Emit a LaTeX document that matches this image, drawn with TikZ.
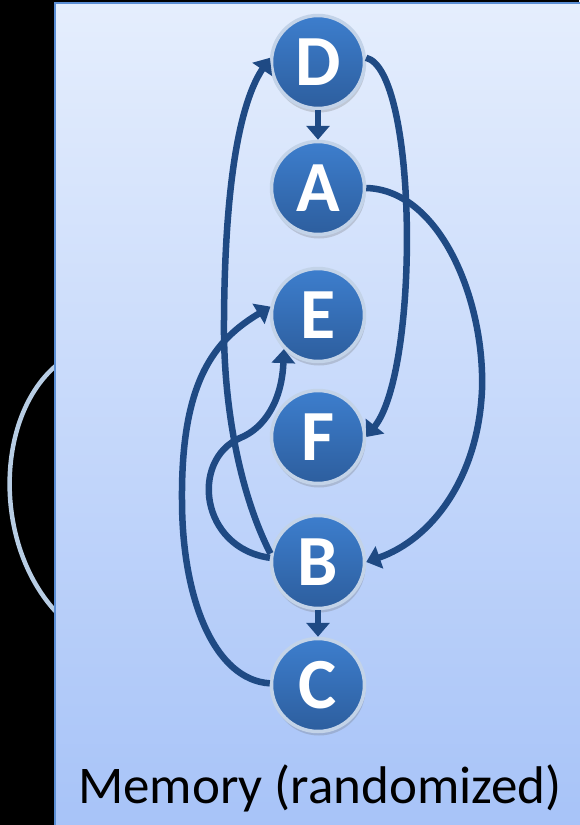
\documentclass[tikz,border=0pt]{standalone}
\usepackage{fontspec}
\setmainfont{Carlito}
\usetikzlibrary{arrows.meta,shadows}
\definecolor{edgeblue}{HTML}{1F4A84}
\definecolor{nodetop}{HTML}{3D7ECD}
\definecolor{nodebot}{HTML}{2D5E9E}
\definecolor{nodering}{HTML}{C3D3E8}
\definecolor{paneltop}{HTML}{E5EEFD}
\definecolor{panelbot}{HTML}{A7C3F8}
\definecolor{panelborder}{HTML}{5B8ED4}
\definecolor{ghost}{HTML}{B8CDE4}
\tikzset{
  mnode/.style={circle, minimum size=93pt, inner sep=0pt, line width=3.5pt,
    draw=nodering, top color=nodetop, bottom color=nodebot, text=white,
    font=\fontsize{72}{72}\selectfont\bfseries,
    drop shadow={shadow xshift=1pt, shadow yshift=-4pt, opacity=0.25, fill=black!60}},
  link/.style={draw=edgeblue, line width=6.5pt, -{Triangle[width=23pt,length=14pt]}},
}
\begin{document}
\begin{tikzpicture}[x=1pt,y=-1pt]
\useasboundingbox (0,0) rectangle (579,825);
\fill[black] (0,0) rectangle (579,825);
\draw[ghost, line width=4.5pt] (58,364) .. controls (-5,415) and (-8,545) .. (58,614);
\shade[top color=paneltop, bottom color=panelbot] (55,3) rectangle (590,830);
\draw[panelborder, line width=2pt] (55,840) -- (55,3) -- (590,3);
\node[mnode] (D) at (318,62) {D};
\node[mnode] (A) at (318,188) {A};
\node[mnode] (E) at (318,315) {E};
\node[mnode] (F) at (318,437) {F};
\node[mnode] (B) at (318,562) {B};
\node[mnode] (C) at (318,685) {C};
\node[font=\fontsize{53}{53}\selectfont, anchor=base] (T) at (320,803) {Memory (randomized)};
\draw[link] (D.south) -- (A.north);
\draw[link] (B.south) -- (C.north);
\draw[link] (D.5) .. controls (418,70) and (420,370) .. (F.east);
\draw[link] (A.east) .. controls (440,190) and (485,300) .. (482,390) .. controls (478,480) and (430,540) .. (B.east);
\draw[link] (B.170) .. controls (238,490) and (223,400) .. (224,320) .. controls (225,160) and (245,95) .. (D.175);
\draw[link] (B.175) .. controls (200,548) and (190,460) .. (240,438) .. controls (265,428) and (282,400) .. (E.225);
\draw[link] (C.178) .. controls (215,680) and (182,600) .. (182,500) .. controls (181,380) and (215,340) .. (E.170);
\end{tikzpicture}
\end{document}
